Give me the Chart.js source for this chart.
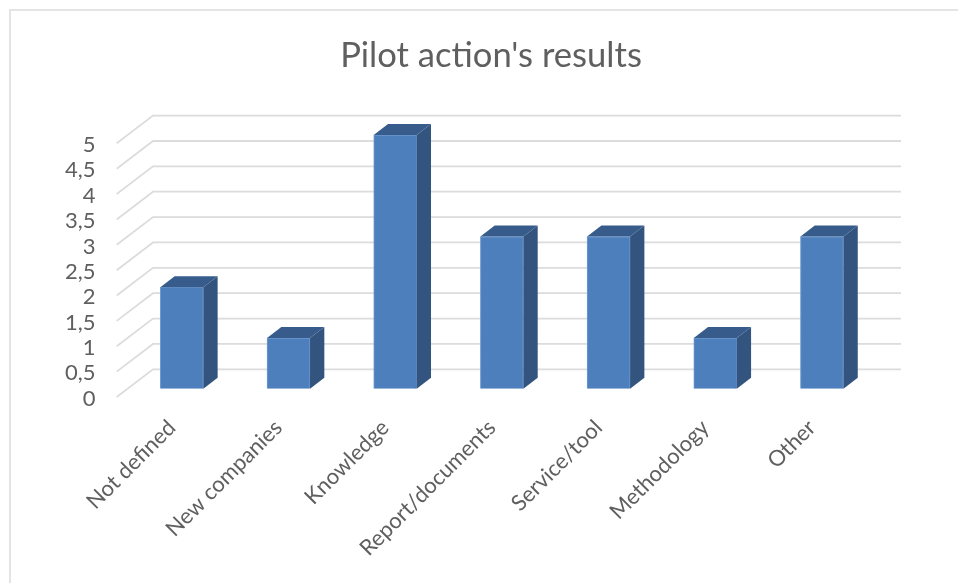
<!DOCTYPE html>
<html>
<head>
<meta charset="utf-8">
<title>Pilot action's results</title>
<script src="https://cdn.jsdelivr.net/npm/chart.js@4"></script>
<style>
  html, body { margin: 0; padding: 0; background: #fff; overflow: hidden; }
  #wrap { position: relative; width: 958px; height: 583px; }
  #frame { position: absolute; left: 9px; top: 9px; width: 960px; height: 590px; border: 2px solid #e4e4e4; box-sizing: border-box; }
</style>
</head>
<body>
<div id="wrap">
  <div id="frame"></div>
  <canvas id="resultsChart" width="958" height="583"></canvas>
</div>
<script>
// data
const categories = ['Not defined', 'New companies', 'Knowledge', 'Report/documents', 'Service/tool', 'Methodology', 'Other'];
const resultCounts = [2, 1, 5, 3, 3, 1, 3];
const chartTitle = "Pilot action's results";

// fake 3D, Excel style: wall and floor drawn around the real scales
const wallOffset = { x: 24.5, y: -19.4 };
const frontOffset = { x: -11.8, y: 8.3 };
const wallRightEdge = 901;
const barDepth = { x: 14.3, y: -11 };

const gridWall = {
  id: 'gridWall',
  beforeDatasetsDraw(chart) {
    const { ctx, scales: { x, y } } = chart;
    const backLeft = x.left + wallOffset.x;
    ctx.save();
    ctx.strokeStyle = '#dcdcdc';
    ctx.lineWidth = 1.8;
    y.ticks.forEach(t => {
      const py = y.getPixelForValue(t.value);
      ctx.beginPath();
      ctx.moveTo(x.left + frontOffset.x, py + frontOffset.y);
      ctx.lineTo(backLeft, py + wallOffset.y);
      ctx.lineTo(wallRightEdge, py + wallOffset.y);
      ctx.stroke();
    });
    ctx.restore();
  }
};

const barSides = {
  id: 'barSides',
  afterDatasetsDraw(chart) {
    const { ctx } = chart;
    chart.getDatasetMeta(0).data.forEach(bar => {
      const l = bar.x - bar.width / 2, r = bar.x + bar.width / 2;
      const dx = barDepth.x, dy = barDepth.y;
      ctx.fillStyle = '#32547f';
      ctx.beginPath();
      ctx.moveTo(r, bar.y);
      ctx.lineTo(r + dx, bar.y + dy);
      ctx.lineTo(r + dx, bar.base + dy);
      ctx.lineTo(r, bar.base);
      ctx.closePath();
      ctx.fill();
      ctx.fillStyle = '#375c8c';
      ctx.beginPath();
      ctx.moveTo(l, bar.y);
      ctx.lineTo(l + dx, bar.y + dy);
      ctx.lineTo(r + dx, bar.y + dy);
      ctx.lineTo(r, bar.y);
      ctx.closePath();
      ctx.fill();
    });
  }
};

new Chart(document.getElementById('resultsChart'), {
  type: 'bar',
  data: {
    labels: categories,
    datasets: [{
      data: resultCounts,
      backgroundColor: '#4e7fbd',
      borderColor: '#6d9ad2',
      borderWidth: 1,
      barThickness: 43
    }]
  },
  plugins: [gridWall, barSides],
  options: {
    responsive: false,
    animation: false,
    layout: { padding: { left: 24, right: 0, top: 0, bottom: 0 } },
    plugins: {
      legend: { display: false },
      tooltip: { enabled: false },
      title: {
        display: true,
        text: chartTitle,
        color: '#5f5f5f',
        font: { family: 'Lato', size: 34.6, weight: 'normal' },
        padding: { top: 35.5, bottom: 58 }
      }
    },
    scales: {
      x: {
        grid: { display: false },
        border: { display: false },
        ticks: {
          color: '#5f5f5f',
          font: { family: 'Lato', size: 22 },
          minRotation: 45,
          maxRotation: 45,
          autoSkip: false,
          padding: 18,
          labelOffset: -10
        },
        afterFit(scale) { scale.height = 194.3; }
      },
      y: {
        min: 0,
        max: 5,
        grid: { display: false },
        border: { display: false },
        ticks: {
          stepSize: 0.5,
          autoSkip: false,
          color: '#5f5f5f',
          font: { family: 'Lato', size: 22 },
          labelOffset: 10,
          padding: 25,
          callback: v => String(v).replace('.', ',')
        },
        afterFit(scale) { scale.width = 104.5; }
      },
      // empty strip on the right, keeps the title centred where the reference has it
      spacer: {
        position: 'right',
        grid: { display: false },
        border: { display: false },
        ticks: { display: false },
        afterFit(scale) { scale.width = 82.7; }
      }
    }
  }
});
</script>
</body>
</html>
